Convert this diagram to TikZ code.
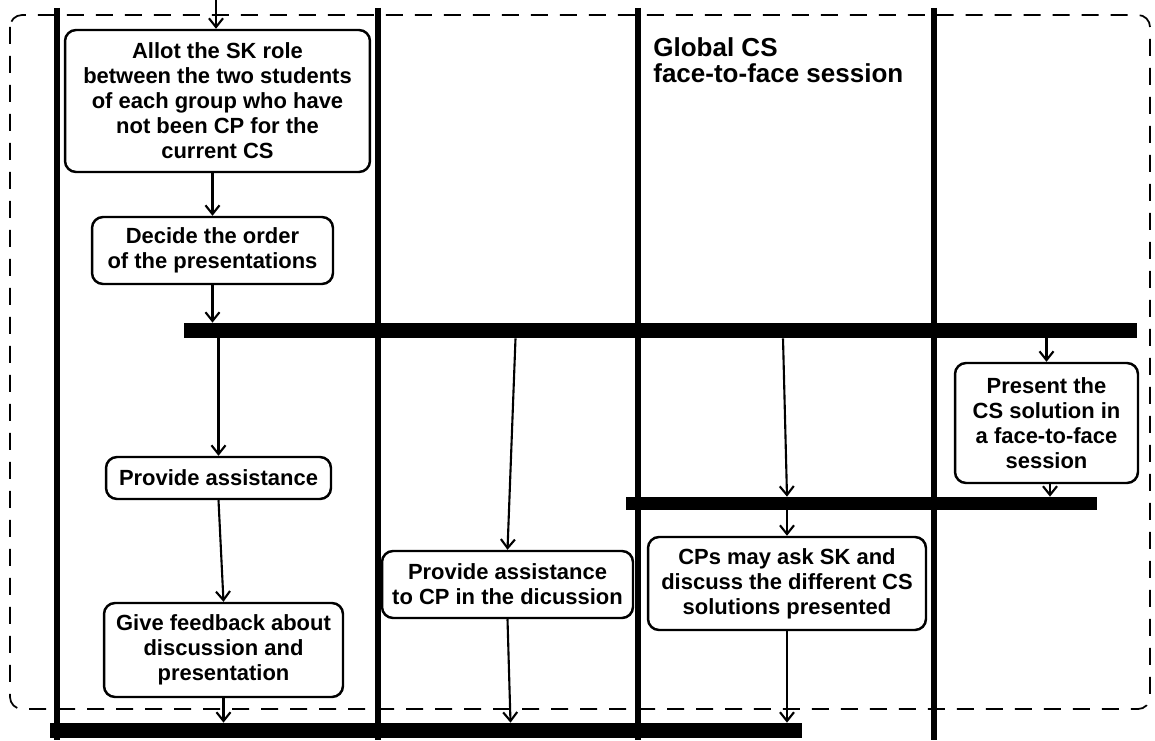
\documentclass[tikz,border=0pt]{standalone}
\usepackage{fontspec}
\setmainfont{Liberation Sans}
\usetikzlibrary{arrows.meta,positioning,calc}

\begin{document}
\begin{tikzpicture}[x=0.02cm,y=-0.02cm,
  act/.style={draw,fill=white,line width=1.4pt,rounded corners=0.22cm,align=center,inner sep=0pt,font=\fontsize{12.5}{14.2}\selectfont\bfseries},
  bar/.style={fill=black,inner sep=0pt,minimum height=0.3cm},
  flow/.style={line width=1.2pt,-{Straight Barb[length=5pt,width=8pt,line width=1.2pt]}},
  lane/.style={line width=3.6pt},
  region/.style={dash pattern=on 0.34cm off 0.24cm,line width=1pt,rounded corners=0.24cm}]
\useasboundingbox (0,0) rectangle (1155,740);
\draw[region] (10,15) rectangle (1150,709);
\foreach \x in {57,378,638,934} \draw[lane] (\x,8) -- (\x,740);
\node[bar,minimum width=19.06cm] (fork) at (660.5,330.5) {};
\node[bar,minimum width=9.42cm,minimum height=0.26cm] (join) at (861.5,503.5) {};
\node[bar,minimum width=15.04cm] (sync) at (426,730.5) {};
\coordinate (entry) at (216,0);
\node[act,minimum width=6.1cm,minimum height=2.84cm] (allot) at (217.5,101) {Allot the SK role\\between the two students\\of each group who have\\not been CP for the\\current CS};
\node[act,minimum width=4.82cm,minimum height=1.34cm] (decide) at (212.5,250.5) {Decide the order\\of the presentations};
\node[act,minimum width=4.5cm,minimum height=0.84cm] (assist) at (218.5,478) {Provide assistance};
\node[act,minimum width=4.78cm,minimum height=1.88cm] (feedback) at (223.5,650) {Give feedback about\\discussion and\\presentation};
\node[act,minimum width=5.02cm,minimum height=1.34cm] (assistcp) at (507.5,584.5) {Provide assistance\\to CP in the dicussion};
\node[act,minimum width=5.56cm,minimum height=1.86cm] (discuss) at (787,583.5) {CPs may ask SK and\\discuss the different CS\\solutions presented};
\node[act,minimum width=3.66cm,minimum height=2.4cm] (present) at (1046.5,423) {Present the\\CS solution in\\a face-to-face\\session};
\node[anchor=west,align=left,inner sep=0pt,font=\fontsize{14.8}{14.6}\selectfont\bfseries] (title) at (653,60) {Global CS\\face-to-face session};
\draw[flow] (entry) -- (entry |- allot.north);
\draw[flow] (decide.north |- allot.south) -- (decide.north);
\draw[flow] (decide.south) -- (decide.south |- fork.north);
\draw[flow] (assist.north |- fork.south) -- (assist.north);
\draw[flow] (assist.south) -- (feedback.north);
\draw[flow] (feedback.south) -- (feedback.south |- sync.north);
\draw[flow] ([xshift=0.16cm]assistcp.north |- fork.south) -- (assistcp.north);
\draw[flow] (assistcp.south) -- ([xshift=0.06cm]assistcp.south |- sync.north);
\draw[flow] ([xshift=-0.08cm]discuss.north |- fork.south) -- (discuss.north |- join.north);
\draw[flow] (discuss.north |- join.south) -- (discuss.north);
\draw[flow] (discuss.south) -- (discuss.south |- sync.north);
\draw[flow] (present.north |- fork.south) -- (present.north);
\draw[flow] ([xshift=0.07cm]present.south) -- ([xshift=0.07cm]present.south |- join.north);
\end{tikzpicture}
\end{document}
